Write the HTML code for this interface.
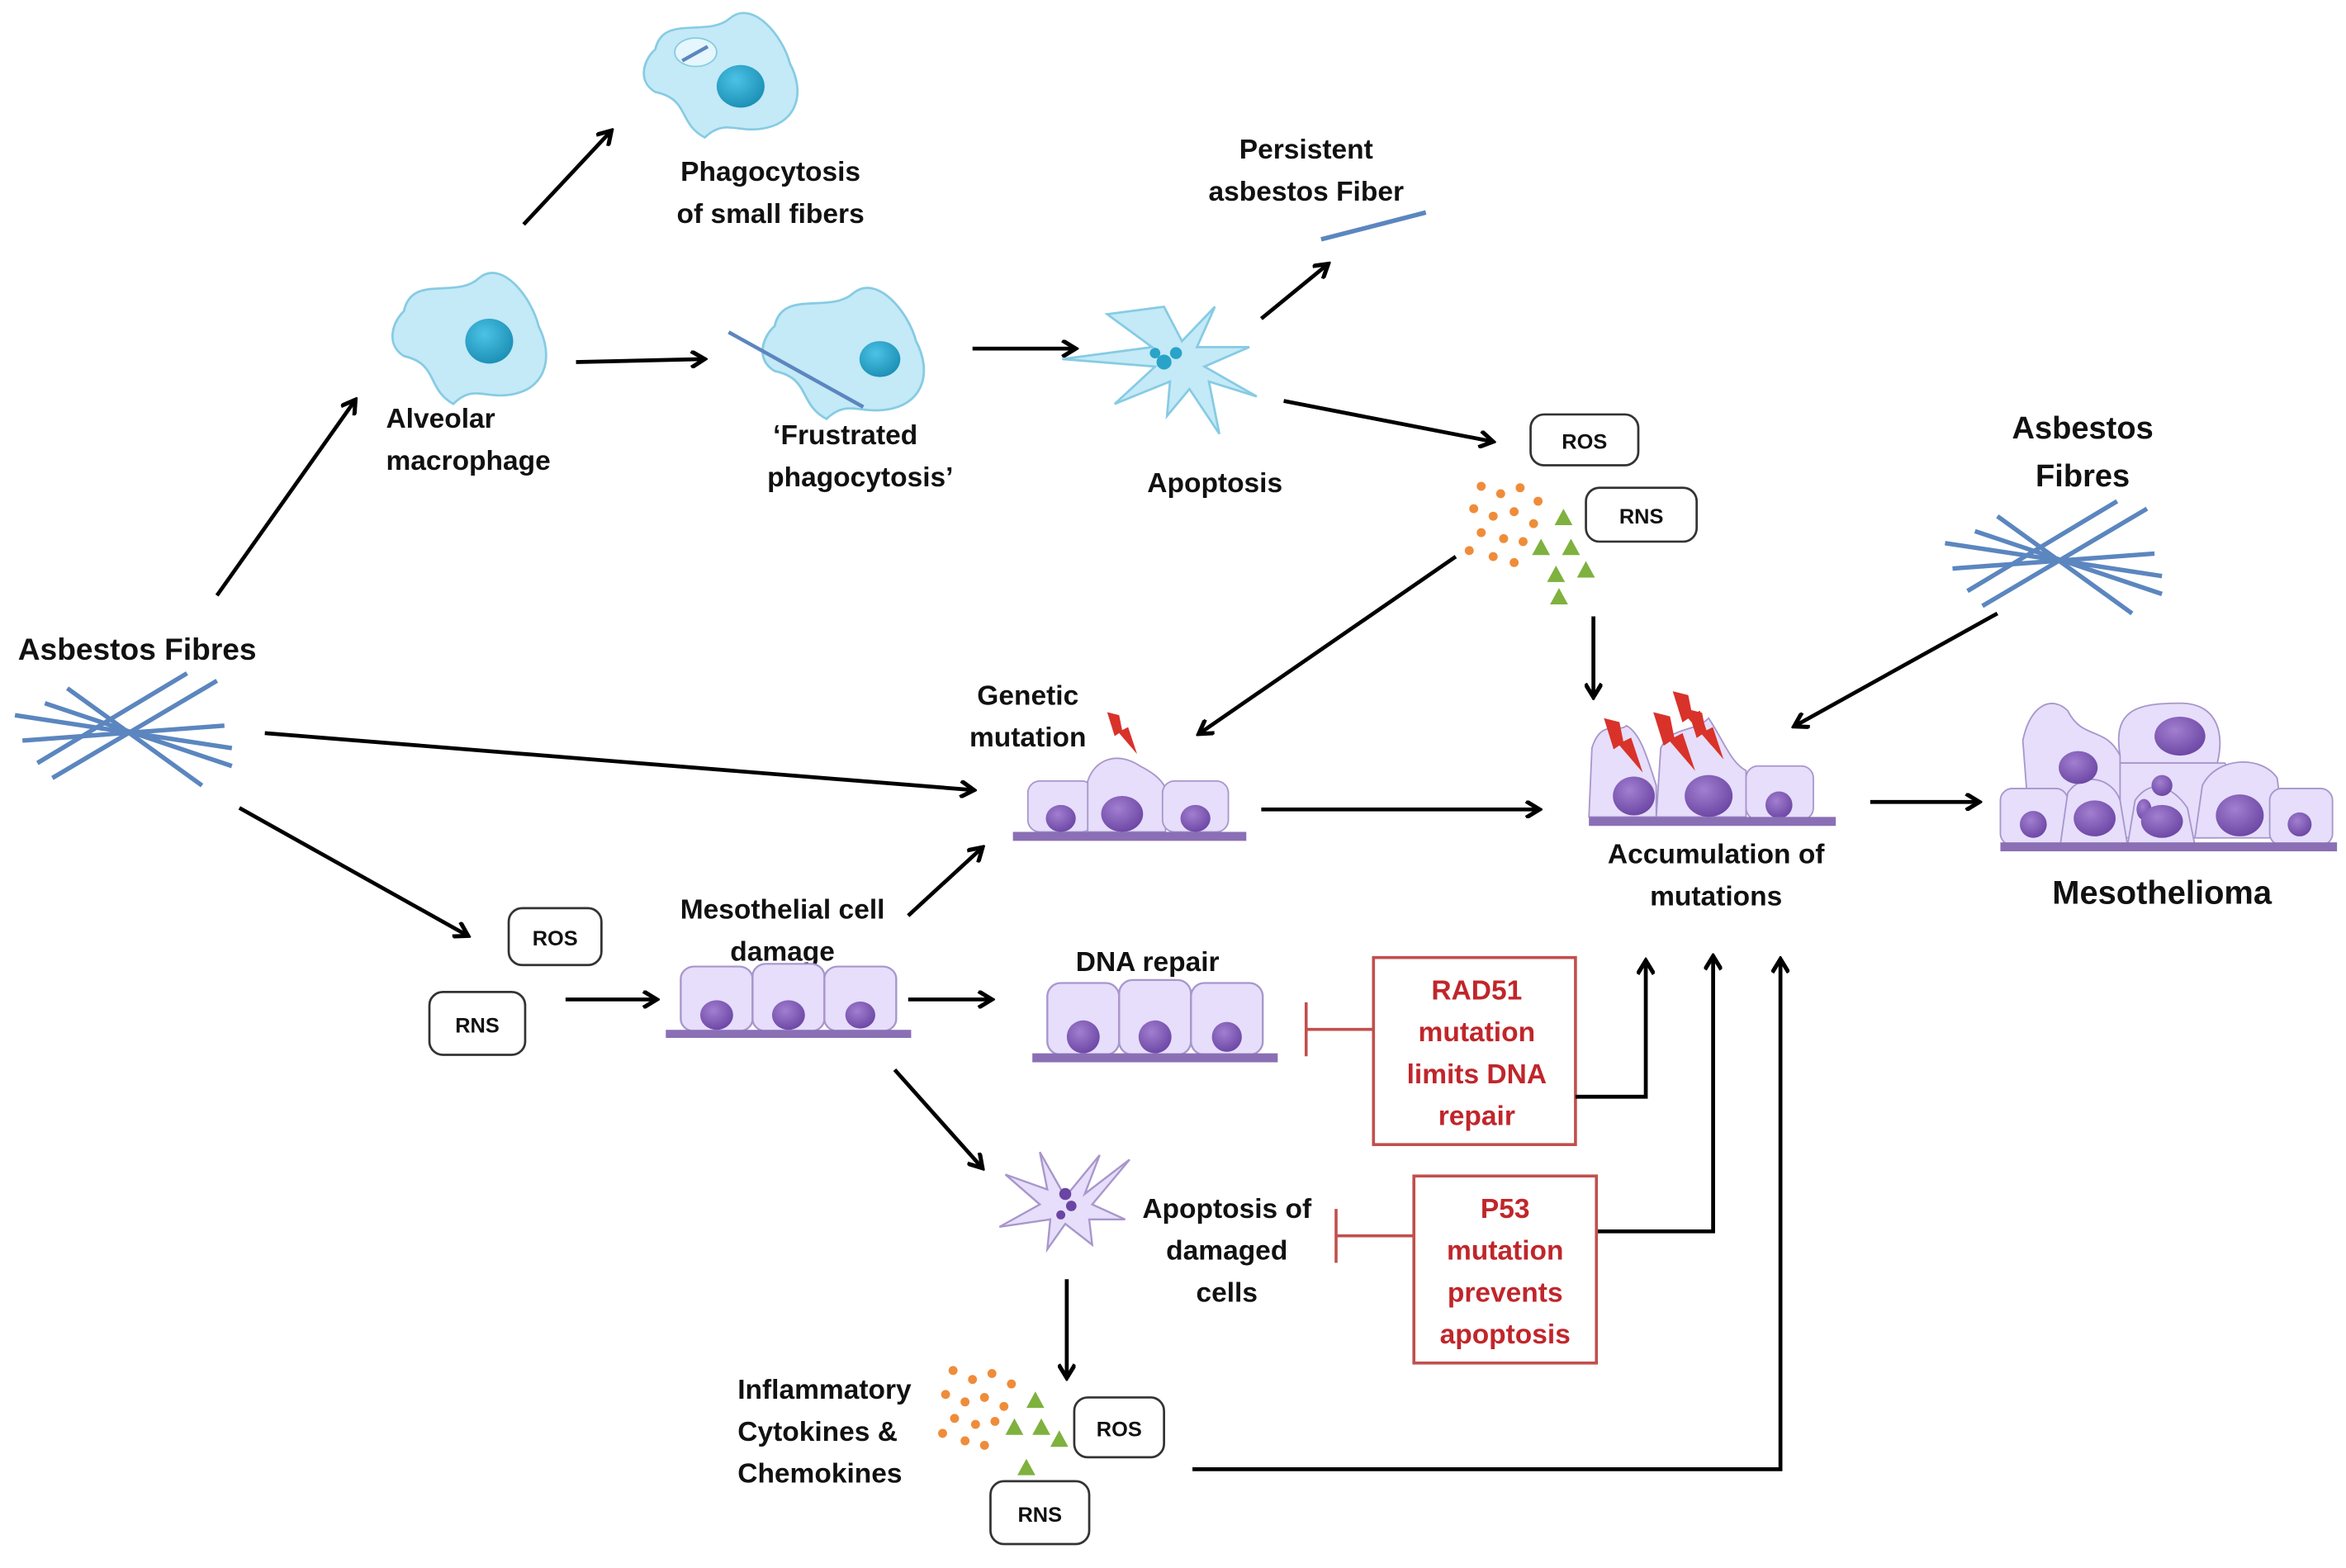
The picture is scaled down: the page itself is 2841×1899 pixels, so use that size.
<!DOCTYPE html>
<html><head><meta charset="utf-8"><style>
html,body{margin:0;padding:0;background:#fff;}
svg{display:block;}
text{font-family:"Liberation Sans",sans-serif;font-weight:bold;fill:#111;}
</style></head><body>
<svg width="2841" height="1899" viewBox="0 0 1568 1048" preserveAspectRatio="none" xmlns="http://www.w3.org/2000/svg">
<defs>
<marker id="ah" markerWidth="12" markerHeight="12" refX="9" refY="6" orient="auto" markerUnits="userSpaceOnUse">
<path d="M1,0.5 L10,6 L1,11.5" fill="none" stroke="#000" stroke-width="2.8"/>
</marker>
<radialGradient id="nb" cx="40%" cy="35%" r="70%"><stop offset="0" stop-color="#4cc3e6"/><stop offset="1" stop-color="#1a8db3"/></radialGradient>
<radialGradient id="np" cx="40%" cy="35%" r="70%"><stop offset="0" stop-color="#a27fd0"/><stop offset="1" stop-color="#6a45a3"/></radialGradient>
<path id="mac" d="M-45,-20 C-40,-45 -10,-28 5,-42 C20,-55 40,-30 45,-10 C55,10 50,30 30,35 C10,40 2,28 -12,42 C-30,32 -22,15 -45,10 C-58,2 -52,-14 -45,-20Z" fill="#c4e9f7" stroke="#86cbe3" stroke-width="1.5"/>
<g id="row3">
<rect x="0" y="-10" width="48" height="48" rx="9" fill="#e6defa" stroke="#a896cc" stroke-width="1.3"/>
<rect x="48" y="-12" width="48" height="50" rx="9" fill="#e6defa" stroke="#a896cc" stroke-width="1.3"/>
<rect x="96" y="-10" width="48" height="48" rx="9" fill="#e6defa" stroke="#a896cc" stroke-width="1.3"/>
<ellipse cx="24" cy="26" rx="11" ry="11" fill="url(#np)"/>
<ellipse cx="72" cy="26" rx="11" ry="11" fill="url(#np)"/>
<ellipse cx="120" cy="26" rx="10" ry="10" fill="url(#np)"/>
<rect x="-10" y="37" width="164" height="6" fill="#8a6fb5"/>
</g>
<g id="fib" stroke="#5b86bf" stroke-width="3" fill="none">
<line x1="-75" y1="-12" x2="70" y2="10"/><line x1="-70" y1="5" x2="65" y2="-5"/>
<line x1="-50" y1="30" x2="60" y2="-35"/><line x1="-40" y1="-30" x2="50" y2="35"/>
<line x1="-60" y1="20" x2="40" y2="-40"/><line x1="-55" y1="-20" x2="70" y2="22"/>
</g>
<g id="bolt"><path d="M0,0 L8,2 L10,12 L14,10 L20,28 L8,14 L5,16 Z" fill="#d9322a"/></g>
</defs>

<g transform="translate(483,52) scale(1.0,0.95)"><use href="#mac"/><ellipse cx="-18" cy="-18" rx="14" ry="10" fill="#e5f6fc" stroke="#86cbe3"/><line x1="-27" y1="-12" x2="-10" y2="-22" stroke="#5b86bf" stroke-width="2.5"/><ellipse cx="12" cy="6" rx="16" ry="15" fill="url(#nb)"/></g>
<text x="515" y="121" font-size="18.5" text-anchor="middle">Phagocytosis</text>
<text x="515" y="149" font-size="18.5" text-anchor="middle">of small fibers</text>

<g transform="translate(315,228)"><use href="#mac"/><ellipse cx="12" cy="0" rx="16" ry="15" fill="url(#nb)"/></g>
<text x="258" y="286" font-size="18.5">Alveolar</text>
<text x="258" y="314" font-size="18.5">macrophage</text>

<g transform="translate(565,238) scale(1.05,1)"><use href="#mac"/><ellipse cx="22" cy="2" rx="13" ry="12" fill="url(#nb)"/></g>
<line x1="487" y1="222" x2="577" y2="272" stroke="#5b86bf" stroke-width="2.5"/>
<text x="565" y="297" font-size="18.5" text-anchor="middle">‘Frustrated</text>
<text x="575" y="325" font-size="18.5" text-anchor="middle">phagocytosis’</text>

<path d="M778,205 L790,228 L812,205 L800,232 L835,232 L805,245 L840,265 L808,255 L815,290 L795,260 L780,278 L782,255 L745,270 L772,245 L710,240 L770,232 L740,210 Z" fill="#c4e9f7" stroke="#86cbe3" stroke-width="1.5"/>
<circle cx="778" cy="242" r="5" fill="#29a3c8"/><circle cx="786" cy="236" r="4" fill="#29a3c8"/><circle cx="772" cy="236" r="3.5" fill="#29a3c8"/>
<text x="812" y="329" font-size="18.5" text-anchor="middle">Apoptosis</text>
<text x="873" y="106" font-size="18.5" text-anchor="middle">Persistent</text>
<text x="873" y="134" font-size="18.5" text-anchor="middle">asbestos Fiber</text>
<line x1="883" y1="160" x2="953" y2="142" stroke="#5b86bf" stroke-width="3"/>

<rect x="1023" y="277" width="72" height="34" rx="9" fill="#fff" stroke="#333" stroke-width="1.5"/>
<text x="1059" y="300" font-size="14" text-anchor="middle">ROS</text>
<rect x="1060" y="326" width="74" height="36" rx="9" fill="#fff" stroke="#333" stroke-width="1.5"/>
<text x="1097" y="350" font-size="14" text-anchor="middle">RNS</text>
<g fill="#ef8c3a">
<circle cx="990" cy="325" r="3"/><circle cx="1003" cy="330" r="3"/><circle cx="1016" cy="326" r="3"/><circle cx="1028" cy="335" r="3"/><circle cx="985" cy="340" r="3"/><circle cx="998" cy="345" r="3"/><circle cx="1012" cy="342" r="3"/><circle cx="1025" cy="350" r="3"/><circle cx="990" cy="356" r="3"/><circle cx="1005" cy="360" r="3"/><circle cx="1018" cy="362" r="3"/><circle cx="982" cy="368" r="3"/><circle cx="998" cy="372" r="3"/><circle cx="1012" cy="376" r="3"/>
</g>
<g fill="#7fb13f">
<path d="M1045,340 l6,11 h-12z"/><path d="M1030,360 l6,11 h-12z"/><path d="M1050,360 l6,11 h-12z"/><path d="M1040,378 l6,11 h-12z"/><path d="M1060,375 l6,11 h-12z"/><path d="M1042,393 l6,11 h-12z"/>
</g>

<text x="12" y="441" font-size="20.5">Asbestos Fibres</text>
<g transform="translate(85,490)"><use href="#fib"/></g>
<text x="1392" y="293" font-size="21" text-anchor="middle">Asbestos</text>
<text x="1392" y="325" font-size="21" text-anchor="middle">Fibres</text>
<g transform="translate(1375,375)"><use href="#fib"/></g>

<text x="687" y="471" font-size="18.5" text-anchor="middle">Genetic</text>
<text x="687" y="499" font-size="18.5" text-anchor="middle">mutation</text>
<g transform="translate(740,476)"><use href="#bolt"/></g>
<g transform="translate(687,522)">
<rect x="0" y="0" width="44" height="34" rx="8" fill="#e6defa" stroke="#a896cc"/>
<path d="M40,34 L40,0 C45,-15 60,-20 75,-10 C85,-5 90,0 92,5 L92,34Z" fill="#e6defa" stroke="#a896cc"/>
<rect x="90" y="0" width="44" height="34" rx="8" fill="#e6defa" stroke="#a896cc"/>
<ellipse cx="22" cy="25" rx="10" ry="9" fill="url(#np)"/><ellipse cx="63" cy="22" rx="14" ry="12" fill="url(#np)"/><ellipse cx="112" cy="25" rx="10" ry="9" fill="url(#np)"/>
<rect x="-10" y="34" width="156" height="6" fill="#8a6fb5"/>
</g>

<g transform="translate(1062,480)">
<path d="M0,66 L2,20 C8,0 20,10 25,5 C35,10 40,30 45,45 L45,66Z" fill="#e6defa" stroke="#a896cc"/>
<path d="M45,66 L48,20 C55,5 70,10 80,0 C90,15 95,30 105,35 L105,66Z" fill="#e6defa" stroke="#a896cc"/>
<rect x="105" y="32" width="45" height="36" rx="8" fill="#e6defa" stroke="#a896cc"/>
<ellipse cx="30" cy="52" rx="14" ry="13" fill="url(#np)"/><ellipse cx="80" cy="52" rx="16" ry="14" fill="url(#np)"/><ellipse cx="127" cy="58" rx="9" ry="9" fill="url(#np)"/>
<rect x="0" y="66" width="165" height="6" fill="#8a6fb5"/>
</g>
<g transform="translate(1072,480) scale(1.3)"><use href="#bolt"/></g>
<g transform="translate(1105,476) scale(1.4)"><use href="#bolt"/></g>
<g transform="translate(1118,462) scale(1.3)"><use href="#bolt"/></g>
<g transform="translate(1128,474) scale(1.2)"><use href="#bolt"/></g>
<text x="1147" y="577" font-size="18.5" text-anchor="middle">Accumulation of</text>
<text x="1147" y="605" font-size="18.5" text-anchor="middle">mutations</text>

<g transform="translate(1337,465)" stroke="#a896cc" fill="#e6defa">
<path d="M20,95 L15,30 C20,5 35,0 45,10 C55,30 70,20 80,40 L80,95Z"/>
<path d="M80,40 C75,10 90,5 120,5 C145,5 150,25 145,45 L80,45Z"/>
<path d="M80,45 L150,45 C160,60 150,80 145,95 L80,95Z"/>
<path d="M130,95 L135,60 C145,40 175,40 185,55 L190,95Z"/>
<rect x="0" y="62" width="45" height="38" rx="8"/>
<path d="M40,100 L45,65 C55,50 75,55 80,70 L85,100Z"/>
<path d="M85,100 L90,70 C100,55 115,60 125,75 L130,100Z"/>
<rect x="180" y="62" width="42" height="38" rx="8"/>
<g stroke="none"><ellipse cx="52" cy="48" rx="13" ry="11" fill="url(#np)"/><ellipse cx="120" cy="27" rx="17" ry="13" fill="url(#np)"/><ellipse cx="108" cy="60" rx="7" ry="7" fill="url(#np)"/><ellipse cx="96" cy="76" rx="5" ry="7" fill="url(#np)"/><ellipse cx="22" cy="86" rx="9" ry="9" fill="url(#np)"/><ellipse cx="63" cy="82" rx="14" ry="12" fill="url(#np)"/><ellipse cx="108" cy="84" rx="14" ry="11" fill="url(#np)"/><ellipse cx="160" cy="80" rx="16" ry="14" fill="url(#np)"/><ellipse cx="200" cy="86" rx="8" ry="8" fill="url(#np)"/></g>
<rect x="0" y="98" width="225" height="6" fill="#8a6fb5" stroke="none"/>
</g>
<text x="1445" y="604" font-size="22" text-anchor="middle">Mesothelioma</text>

<rect x="340" y="607" width="62" height="38" rx="9" fill="#fff" stroke="#333" stroke-width="1.5"/>
<text x="371" y="632" font-size="14" text-anchor="middle">ROS</text>
<rect x="287" y="663" width="64" height="42" rx="9" fill="#fff" stroke="#333" stroke-width="1.5"/>
<text x="319" y="690" font-size="14" text-anchor="middle">RNS</text>

<text x="523" y="614" font-size="18.5" text-anchor="middle">Mesothelial cell</text>
<text x="523" y="642" font-size="18.5" text-anchor="middle">damage</text>
<g transform="translate(455,655) scale(1,0.9)"><use href="#row3"/></g>
<text x="767" y="649" font-size="18.5" text-anchor="middle">DNA repair</text>
<g transform="translate(700,667)"><use href="#row3"/></g>

<g stroke="#c0504d" stroke-width="2" fill="none">
<line x1="918" y1="688" x2="873" y2="688"/><line x1="873" y1="670" x2="873" y2="706"/>
<rect x="918" y="640" width="135" height="125"/>
<line x1="945" y1="826" x2="893" y2="826"/><line x1="893" y1="808" x2="893" y2="844"/>
<rect x="945" y="786" width="122" height="125"/>
</g>
<g font-size="18.5" text-anchor="middle">
<text x="987" y="668" style="fill:#c0262b">RAD51</text><text x="987" y="696" style="fill:#c0262b">mutation</text><text x="987" y="724" style="fill:#c0262b">limits DNA</text><text x="987" y="752" style="fill:#c0262b">repair</text>
<text x="1006" y="814" style="fill:#c0262b">P53</text><text x="1006" y="842" style="fill:#c0262b">mutation</text><text x="1006" y="870" style="fill:#c0262b">prevents</text><text x="1006" y="898" style="fill:#c0262b">apoptosis</text>
</g>

<path d="M712,800 L735,772 L725,798 L755,775 L730,805 L752,815 L728,815 L730,832 L712,818 L700,835 L702,815 L668,820 L695,805 L672,785 L700,795 L695,770Z" fill="#e6defa" stroke="#a896cc" stroke-width="1.3"/>
<circle cx="712" cy="798" r="4" fill="#6a45a3"/><circle cx="716" cy="806" r="3.5" fill="#6a45a3"/><circle cx="709" cy="812" r="3" fill="#6a45a3"/>
<text x="820" y="814" font-size="18.5" text-anchor="middle">Apoptosis of</text>
<text x="820" y="842" font-size="18.5" text-anchor="middle">damaged</text>
<text x="820" y="870" font-size="18.5" text-anchor="middle">cells</text>

<text x="493" y="935" font-size="18.5">Inflammatory</text>
<text x="493" y="963" font-size="18.5">Cytokines &amp;</text>
<text x="493" y="991" font-size="18.5">Chemokines</text>
<g fill="#ef8c3a">
<circle cx="637" cy="916" r="3"/><circle cx="650" cy="922" r="3"/><circle cx="663" cy="918" r="3"/><circle cx="676" cy="925" r="3"/><circle cx="632" cy="932" r="3"/><circle cx="645" cy="937" r="3"/><circle cx="658" cy="934" r="3"/><circle cx="671" cy="940" r="3"/><circle cx="638" cy="948" r="3"/><circle cx="652" cy="952" r="3"/><circle cx="665" cy="950" r="3"/><circle cx="630" cy="958" r="3"/><circle cx="645" cy="963" r="3"/><circle cx="658" cy="966" r="3"/>
</g>
<g fill="#7fb13f">
<path d="M692,930 l6,11 h-12z"/><path d="M678,948 l6,11 h-12z"/><path d="M696,948 l6,11 h-12z"/><path d="M708,956 l6,11 h-12z"/><path d="M686,975 l6,11 h-12z"/>
</g>
<rect x="718" y="934" width="60" height="40" rx="9" fill="#fff" stroke="#333" stroke-width="1.5"/>
<text x="748" y="960" font-size="14" text-anchor="middle">ROS</text>
<rect x="662" y="990" width="66" height="42" rx="9" fill="#fff" stroke="#333" stroke-width="1.5"/>
<text x="695" y="1017" font-size="14" text-anchor="middle">RNS</text>

<g stroke="#000" stroke-width="2.6" fill="none" marker-end="url(#ah)">
<line x1="350" y1="150" x2="408" y2="88"/>
<line x1="385" y1="242" x2="470" y2="240"/>
<line x1="650" y1="233" x2="718" y2="233"/>
<line x1="843" y1="213" x2="887" y2="177"/>
<line x1="858" y1="268" x2="997" y2="295"/>
<line x1="973" y1="372" x2="802" y2="490"/>
<line x1="1065" y1="412" x2="1065" y2="465"/>
<line x1="1335" y1="410" x2="1200" y2="485"/>
<line x1="145" y1="398" x2="237" y2="268"/>
<line x1="177" y1="490" x2="650" y2="528"/>
<line x1="160" y1="540" x2="312" y2="625"/>
<line x1="843" y1="541" x2="1028" y2="541"/>
<line x1="1250" y1="536" x2="1322" y2="536"/>
<line x1="378" y1="668" x2="438" y2="668"/>
<line x1="607" y1="612" x2="656" y2="567"/>
<line x1="607" y1="668" x2="662" y2="668"/>
<line x1="598" y1="715" x2="656" y2="780"/>
<line x1="713" y1="855" x2="713" y2="920"/>
<polyline points="1053,733 1100,733 1100,643"/>
<polyline points="1068,823 1145,823 1145,640"/>
<polyline points="797,982 1190,982 1190,642"/>
</g>
</svg>
</body></html>
